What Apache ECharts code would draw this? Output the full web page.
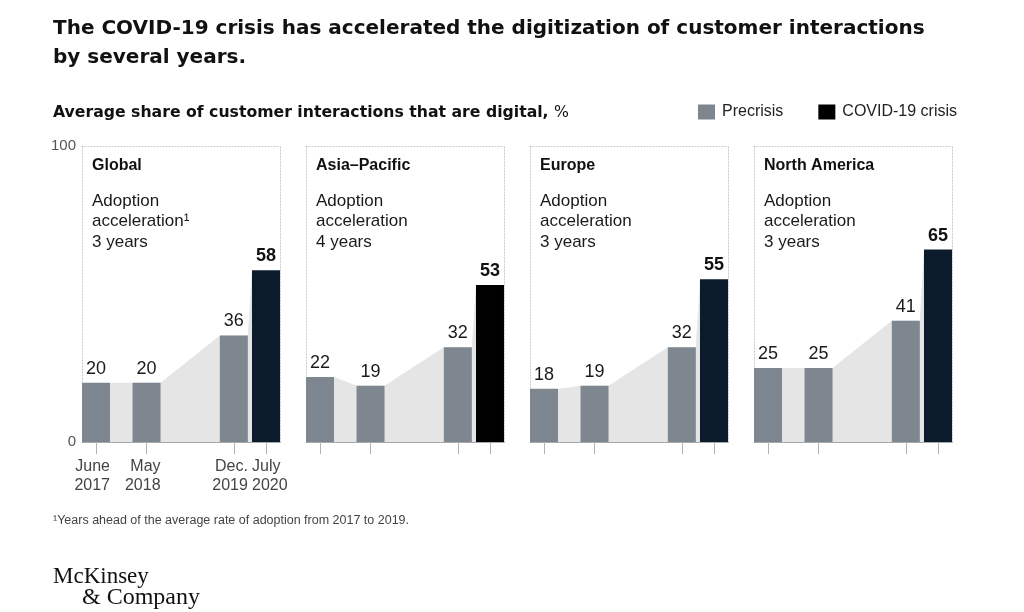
<!DOCTYPE html>
<html>
<head>
<meta charset="utf-8">
<script src="https://cdn.jsdelivr.net/npm/echarts@6/dist/echarts.min.js"></script>
<style>
html,body{margin:0;padding:0;background:#fff;}
#chart{width:1024px;height:612px;}
</style>
</head>
<body>
<div id="chart"></div>
<script>
// ---- data ----
const regions = ['Global', 'Asia\u2013Pacific', 'Europe', 'North America'];
const accelerationYears = [3, 4, 3, 3];
// survey dates as months since Jan 2017: June 2017, May 2018, Dec. 2019, July 2020
const precrisisMonths = [5, 16, 35];
const covidMonth = 42;
const precrisisTickLabels = ['June\n2017', 'May\n2018', 'Dec.\n2019'];
const covidTickLabel = 'July\n2020';
const precrisisGlobal = [20, 20, 36];
const precrisisAsiaPacific = [22, 19, 32];
const precrisisEurope = [18, 19, 32];
const precrisisNorthAmerica = [25, 25, 41];
const covidValues = [58, 53, 55, 65];

// ---- styles ----
const FONT = 'Liberation Sans';
const HEAD_FONT = 'DejaVu Sans';
const precrisisColor = '#7e8790';
const covidColors = ['#0b1b2b', '#000000', '#0b1b2b', '#0b1b2b'];
const areaColor = '#e5e5e5';
const frameColor = '#c4c4c4';
const panelLefts = [82, 306, 530, 754];
const panelWidth = 198;
const gridTop = 146, gridHeight = 296;
const BAR_W = 28;
const X_MIN = 1.95, X_MAX = 45.05;

const precrisisByRegion = [precrisisGlobal, precrisisAsiaPacific, precrisisEurope, precrisisNorthAmerica];
const allMonths = precrisisMonths.concat([covidMonth]);
// half a bar width expressed in axis units (for label alignment with bar edges)
const halfBarUnits = (BAR_W / 2) * (X_MAX - X_MIN) / panelWidth;

const chart = echarts.init(document.getElementById('chart'), null, {renderer: 'canvas'});

const grids = [], xAxes = [], yAxes = [], series = [], titles = [];

titles.push({
  left: 53, top: 14, padding: 0,
  text: 'The COVID-19 crisis has accelerated the digitization of customer interactions\nby several years.',
  textStyle: {fontFamily: HEAD_FONT, fontSize: 20, fontWeight: 'bold', color: '#111', lineHeight: 29}
});
titles.push({
  left: 53, top: 105, padding: 0,
  text: '{b|Average share of customer interactions that are digital, }{r|%}',
  textStyle: {
    rich: {
      b: {fontFamily: HEAD_FONT, fontSize: 15.7, fontWeight: 'bold', color: '#111'},
      r: {fontFamily: HEAD_FONT, fontSize: 15.7, fontWeight: 'normal', color: '#111'}
    }
  }
});
titles.push({
  left: 53, top: 514, padding: 0,
  text: '\u00b9Years ahead of the average rate of adoption from 2017 to 2019.',
  textStyle: {fontFamily: FONT, fontSize: 12.5, fontWeight: 'normal', color: '#444'}
});
titles.push({
  left: 53, top: 565, padding: 0,
  text: 'McKinsey',
  textStyle: {fontFamily: 'Liberation Serif', fontSize: 23, fontWeight: 'normal', color: '#111'}
});
titles.push({
  left: 82, top: 586, padding: 0,
  text: '& Company',
  textStyle: {fontFamily: 'Liberation Serif', fontSize: 24, fontWeight: 'normal', color: '#111'}
});

const labelText = {fontFamily: FONT, fontSize: 16, color: '#444', lineHeight: 19};

regions.forEach((name, i) => {
  const left = panelLefts[i];
  grids.push({left: left, top: gridTop, width: panelWidth, height: gridHeight, containLabel: false});
  const xIdx = xAxes.length;
  // bottom axis (ticks at survey dates)
  xAxes.push({
    gridIndex: i, type: 'value', min: X_MIN, max: X_MAX, position: 'bottom',
    axisLine: {show: true, onZero: false, lineStyle: {color: '#a8a8a8', width: 1}},
    axisTick: {show: true, customValues: allMonths, length: 12, lineStyle: {color: '#b4b4b4', width: 1}},
    axisLabel: {show: false},
    splitLine: {show: false}
  });
  // top frame
  xAxes.push({
    gridIndex: i, type: 'value', min: X_MIN, max: X_MAX, position: 'top',
    axisLine: {show: true, onZero: false, lineStyle: {color: frameColor, width: 1, type: [1, 2]}},
    axisTick: {show: false}, axisLabel: {show: false}, splitLine: {show: false}
  });
  if (i === 0) {
    const preLabelVals = precrisisMonths.map(m => m + halfBarUnits);
    const covLabelVal = covidMonth - halfBarUnits;
    // precrisis date labels, right-aligned to the bar's right edge
    xAxes.push({
      gridIndex: i, type: 'value', min: X_MIN, max: X_MAX, position: 'bottom',
      axisLine: {show: false, onZero: false}, axisTick: {show: false}, splitLine: {show: false},
      axisLabel: Object.assign({
        show: true, customValues: preLabelVals, margin: 15, align: 'right', hideOverlap: false,
        formatter: v => precrisisTickLabels[preLabelVals.indexOf(v)]
      }, labelText)
    });
    // COVID date label, left-aligned to the bar's left edge
    xAxes.push({
      gridIndex: i, type: 'value', min: X_MIN, max: X_MAX, position: 'bottom',
      axisLine: {show: false, onZero: false}, axisTick: {show: false}, splitLine: {show: false},
      axisLabel: Object.assign({
        show: true, customValues: [covLabelVal], margin: 15, align: 'left', hideOverlap: false,
        formatter: () => covidTickLabel
      }, labelText)
    });
  }
  const yIdx = yAxes.length;
  yAxes.push({
    gridIndex: i, type: 'value', min: 0, max: 100, interval: 100, position: 'left',
    axisLine: {show: true, onZero: false, lineStyle: {color: frameColor, width: 1, type: [1, 2]}},
    axisTick: {show: false},
    axisLabel: {show: i === 0, margin: 6, fontFamily: FONT, fontSize: 15, color: '#555'},
    splitLine: {show: false}
  });
  yAxes.push({
    gridIndex: i, type: 'value', min: 0, max: 100, interval: 100, position: 'right',
    axisLine: {show: true, onZero: false, lineStyle: {color: frameColor, width: 1, type: [1, 2]}},
    axisTick: {show: false}, axisLabel: {show: false}, splitLine: {show: false}
  });

  const pre = precrisisByRegion[i];
  const allVals = pre.concat([covidValues[i]]);

  // shaded area joining the bar tops
  series.push({
    type: 'custom', xAxisIndex: xIdx, yAxisIndex: yIdx, silent: true, z: 1,
    data: [[allMonths[0], 0]],
    renderItem: (params, api) => {
      const pts = allMonths.map((m, k) => api.coord([m, allVals[k]]));
      const baseY = api.coord([allMonths[0], 0])[1];
      const h = BAR_W / 2;
      const poly = [];
      pts.forEach((p, k) => {
        if (k > 0) poly.push([p[0] - h, p[1]]);
        if (k < pts.length - 1) poly.push([p[0] + h, p[1]]);
      });
      poly.push([pts[pts.length - 1][0] - h, baseY]);
      poly.push([pts[0][0] + h, baseY]);
      return {type: 'polygon', shape: {points: poly}, style: {fill: areaColor}};
    }
  });

  series.push({
    name: 'Precrisis', type: 'bar', xAxisIndex: xIdx, yAxisIndex: yIdx, z: 3,
    barWidth: BAR_W, barGap: '-100%',
    data: precrisisMonths.map((m, k) => [m, pre[k]]),
    itemStyle: {color: precrisisColor},
    label: {show: true, position: 'top', distance: 5, fontFamily: FONT, fontSize: 18, color: '#1a1a1a',
      formatter: p => p.value[1]},
    silent: true
  });
  series.push({
    name: 'COVID-19 crisis', type: 'bar', xAxisIndex: xIdx, yAxisIndex: yIdx, z: 3,
    barWidth: BAR_W, barGap: '-100%',
    data: [[covidMonth, covidValues[i]]],
    itemStyle: {color: covidColors[i]},
    label: {show: true, position: 'top', distance: 5, fontFamily: FONT, fontSize: 18, fontWeight: 'bold', color: '#111',
      formatter: p => p.value[1]},
    silent: true
  });

  titles.push({
    left: left + 10, top: 157, padding: 0,
    text: name,
    textStyle: {fontFamily: FONT, fontSize: 16, fontWeight: 'bold', color: '#111', lineHeight: 18}
  });
  titles.push({
    left: left + 10, top: 191, padding: 0,
    text: 'Adoption\nacceleration' + (i === 0 ? '\u00b9' : '') + '\n' + accelerationYears[i] + ' years',
    textStyle: {fontFamily: FONT, fontSize: 17, fontWeight: 'normal', color: '#1a1a1a', lineHeight: 20.5}
  });
});

chart.setOption({
  animation: false,
  backgroundColor: '#ffffff',
  title: titles,
  legend: {
    left: 698, top: 104, padding: 0, itemWidth: 17, itemHeight: 15, itemGap: 35, selectedMode: false,
    icon: 'rect',
    textStyle: {fontFamily: FONT, fontSize: 16, color: '#222', padding: [0, 0, 0, 2]},
    data: [
      {name: 'Precrisis', itemStyle: {color: precrisisColor}},
      {name: 'COVID-19 crisis', itemStyle: {color: '#000000'}}
    ]
  },
  grid: grids,
  xAxis: xAxes,
  yAxis: yAxes,
  series: series
});
</script>
</body>
</html>
